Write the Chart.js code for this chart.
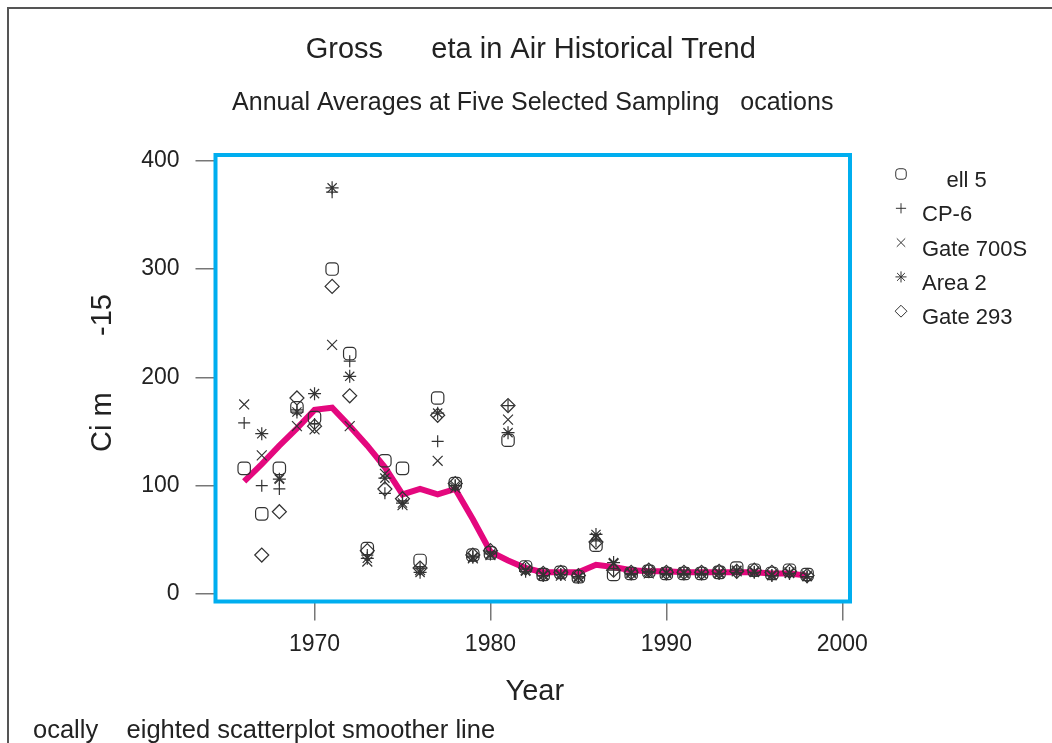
<!DOCTYPE html>
<html>
<head>
<meta charset="utf-8">
<script src="https://cdn.jsdelivr.net/npm/chart.js"></script>
<style>
  html, body { margin: 0; padding: 0; background: #fff; }
  #wrap { width: 1052px; height: 743px; position: relative; }
</style>
</head>
<body>
<div id="wrap"><canvas id="chart"></canvas></div>
<script>
// Yıllar ve istasyon değerleri (okunan değerler)
var years    = [1966, 1967, 1968, 1969, 1970, 1971, 1972, 1973, 1974, 1975, 1976, 1977, 1978, 1979, 1980, 1981,
                1982, 1983, 1984, 1985, 1986, 1987, 1988, 1989, 1990, 1991, 1992, 1993, 1994, 1995, 1996, 1997, 1998];
var well5    = [116, 74, 116, 172, 163, 300, 222, 42, 123, 116, 31, 181, 102, 36, 38, 142,
                25, 18, 20, 16, 45, 18, 19, 21, 19, 19, 19, 20, 24, 22, 19, 22, 18];
var cp6      = [158, 100, 97, 170, 157, 371, 215, 36, 93, 86, 24, 141, 100, 35, 39, 174,
                23, 17, 18, 15, 49, 22, 18, 20, 18, 18, 18, 19, 20, 20, 17, 19, 16];
var gate700s = [175, 128, 107, 155, 152, 230, 155, 30, 111, 82, 22, 123, 98, 33, 36, 161,
                22, 18, 17, 15, 52, 28, 20, 19, 20, 20, 19, 20, 21, 21, 18, 20, 17];
var area2    = [null, 148, 106, 168, 185, 375, 201, 33, 107, 84, 20, 167, 100, 34, 37, 149,
                21, 17, 18, 16, 55, 29, 19, 21, 19, 19, 19, 19, 22, 20, 17, 19, 16];
var gate293  = [null, 36, 76, 181, 155, 284, 183, 40, 97, 88, 24, 165, 102, 36, 40, 174,
                24, 19, 20, 17, 48, 22, 20, 22, 20, 20, 20, 21, 21, 22, 20, 21, 17];
var smoother = [104, 120, 137, 153, 170, 172, 155, 137, 117, 92, 97, 92, 97, 69, 39, 31,
                24, 20, 20, 20, 27, 25, 22, 21, 21, 20, 20, 20, 20, 20, 19, 19, 17];

var xTicks = [1970, 1980, 1990, 2000];
var yTicks = [0, 100, 200, 300, 400];
var seriesNames = ['    ell 5', 'CP-6', 'Gate 700S', 'Area 2', 'Gate 293'];

var FONT = "'Liberation Sans', Arial, sans-serif";
var INK = '#222';
var MARK = '#333';

// Sembol tipleri
var markers = [
    { style: 'rectRounded', radius: 7.2 },
    { style: 'cross', radius: 6 },
    { style: 'crossRot', radius: 7 },
    { style: 'star', radius: 6.5 },
    { style: 'rectRot', radius: 7 }
];

function toPoints(values) {
    var pts = [];
    years.forEach(function (yr, i) {
        if (values[i] !== null) pts.push({ x: yr, y: values[i] });
    });
    return pts;
}

var seriesValues = [well5, cp6, gate700s, area2, gate293];
var datasets = seriesValues.map(function (vals, i) {
    return {
        label: seriesNames[i],
        data: toPoints(vals),
        showLine: false,
        pointStyle: markers[i].style,
        pointRadius: markers[i].radius,
        pointBorderWidth: 1.2,
        pointBorderColor: MARK,
        pointBackgroundColor: 'rgba(0,0,0,0)'
    };
});
// Yumuşatma çizgisi (en altta çizilsin diye sonda)
datasets.push({
    label: 'smoother',
    data: toPoints(smoother),
    showLine: true,
    borderColor: '#e4087e',
    borderWidth: 6,
    pointRadius: 0,
    tension: 0
});

var decor = {
    id: 'decor',
    beforeDraw: function (chart) {
        var ctx = chart.ctx;
        ctx.save();
        ctx.fillStyle = '#fff';
        ctx.fillRect(0, 0, chart.width, chart.height);
        ctx.strokeStyle = '#555';
        ctx.lineWidth = 2;
        ctx.beginPath();
        ctx.moveTo(8, chart.height);
        ctx.lineTo(8, 8);
        ctx.lineTo(chart.width, 8);
        ctx.stroke();
        ctx.restore();
    },
    afterDraw: function (chart) {
        var ctx = chart.ctx;
        var a = chart.chartArea;
        var cx = (a.left + a.right) / 2;
        ctx.save();

        // Mavi çerçeve
        ctx.strokeStyle = '#00aeef';
        ctx.lineWidth = 4;
        ctx.strokeRect(a.left, a.top, a.right - a.left, a.bottom - a.top);

        ctx.fillStyle = INK;
        ctx.textAlign = 'center';
        ctx.textBaseline = 'middle';
        ctx.font = '29px ' + FONT;
        ctx.fillText('Gross      eta in Air Historical Trend', cx - 2, 50);
        ctx.font = '25px ' + FONT;
        ctx.fillText('Annual Averages at Five Selected Sampling   ocations', cx, 103);

        ctx.font = '29px ' + FONT;
        ctx.fillText('Year', cx + 2, 692);

        ctx.save();
        ctx.translate(103, 373);
        ctx.rotate(-Math.PI / 2);
        ctx.fillText('Ci m       -15', 0, 0);
        ctx.restore();

        ctx.textAlign = 'left';
        ctx.font = '25.5px ' + FONT;
        ctx.fillText('ocally    eighted scatterplot smoother line', 33, 731);

        // Lejant
        ctx.font = '22px ' + FONT;
        seriesNames.forEach(function (name, i) {
            var ty = 181 + i * 34.3;
            ctx.fillStyle = INK;
            ctx.fillText(name, 922, ty);
            ctx.strokeStyle = MARK;
            ctx.fillStyle = 'rgba(0,0,0,0)';
            ctx.lineWidth = 1;
            Chart.helpers.drawPoint(ctx, {
                pointStyle: markers[i].style,
                radius: markers[i].radius * 0.85,
                borderWidth: 1,
                rotation: 0
            }, 901, ty - 7);
        });
        ctx.restore();
    }
};

var tickFont = { family: FONT, size: 23 };

new Chart(document.getElementById('chart'), {
    type: 'scatter',
    data: { datasets: datasets },
    options: {
        responsive: true,
        maintainAspectRatio: false,
        animation: false,
        layout: { padding: { top: 155, right: 202, bottom: 0, left: 0 } },
        plugins: { legend: { display: false }, tooltip: { enabled: false } },
        scales: {
            x: {
                type: 'linear',
                min: 1964.37,
                max: 2000.44,
                afterBuildTicks: function (s) { s.ticks = xTicks.map(function (v) { return { value: v }; }); },
                afterFit: function (s) { s.height = 141.5; },
                border: { display: false },
                grid: { drawOnChartArea: false, drawTicks: true, tickLength: 19, color: '#777', lineWidth: 1.5 },
                ticks: { font: tickFont, color: INK, padding: 10, maxRotation: 0, autoSkip: false,
                         callback: function (v) { return String(v); } }
            },
            y: {
                type: 'linear',
                min: -6.9,
                max: 405.3,
                afterBuildTicks: function (s) { s.ticks = yTicks.map(function (v) { return { value: v }; }); },
                afterFit: function (s) { s.width = 215.5; },
                border: { display: false },
                grid: { drawOnChartArea: false, drawTicks: true, tickLength: 20, color: '#777', lineWidth: 1.5 },
                ticks: { font: tickFont, color: INK, padding: 16, autoSkip: false,
                         callback: function (v) { return String(v); } }
            }
        }
    },
    plugins: [decor]
});
</script>
</body>
</html>
